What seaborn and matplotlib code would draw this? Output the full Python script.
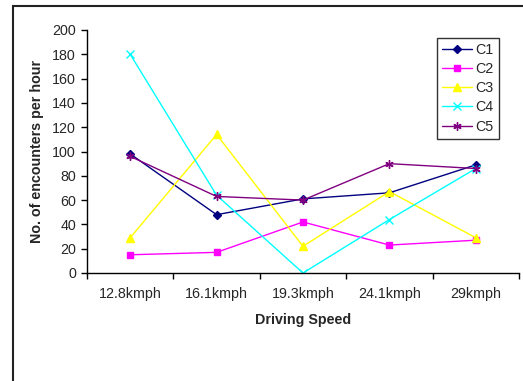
import matplotlib
matplotlib.use("Agg")
import matplotlib.pyplot as plt
import seaborn as sns
import pandas as pd
from matplotlib.patches import Rectangle

speeds = ["12.8kmph", "16.1kmph", "19.3kmph", "24.1kmph", "29kmph"]
c1 = [98, 48, 61, 66, 89]
c2 = [15, 17, 42, 23, 27]
c3 = [29, 114, 22, 67, 29]
c4 = [180, 64, 0, 44, 86]
c5 = [96, 63, 60, 90, 86]
series = {"C1": c1, "C2": c2, "C3": c3, "C4": c4, "C5": c5}

rows = []
for name, vals in series.items():
    for i, (s, v) in enumerate(zip(speeds, vals)):
        rows.append({"speed": s, "pos": i, "value": v, "series": name})
df = pd.DataFrame(rows)

sns.set_style("white")
plt.rcParams["font.family"] = ["Liberation Sans", "DejaVu Sans"]

FS = 10.3
fig = plt.figure(figsize=(5.23, 3.81), dpi=100)
ax = fig.add_axes([87/523, 1-273/381, 432/523, 243/381])

palette = {"C1": "#000080", "C2": "#FF00FF", "C3": "#FFFF00", "C4": "#00FFFF", "C5": "#800080"}
markers = {"C1": "D", "C2": "s", "C3": "^", "C4": "x", "C5": (6, 2, 0)}
sizes = {"C1": 4, "C2": 4.5, "C3": 5.5, "C4": 5.5, "C5": 6}

for name in series:
    sub = df[df.series == name]
    sns.lineplot(data=sub, x="pos", y="value", ax=ax, color=palette[name],
                 marker=markers[name], markersize=sizes[name], linewidth=1,
                 markeredgecolor=palette[name], markeredgewidth=1.0, label=name)

ax.set_xlim(-0.5, 4.5)
ax.set_ylim(0, 200)
ax.set_yticks(range(0, 201, 20))
ax.set_xticks(range(5))
ax.set_xticklabels(speeds)
ax.set_xticks([i - 0.5 for i in range(6)], minor=True)
ax.tick_params(axis="x", which="major", length=0, pad=10, labelsize=FS)
ax.tick_params(axis="x", which="minor", length=4, width=1, color="black", bottom=True)
ax.tick_params(axis="y", length=4, width=1, color="black", left=True, labelsize=FS, pad=4)
for sp in ["top", "right"]:
    ax.spines[sp].set_visible(False)
for sp in ["left", "bottom"]:
    ax.spines[sp].set_color("black")
    ax.spines[sp].set_linewidth(1)

ax.set_xlabel("Driving Speed", fontweight="bold", fontsize=FS, labelpad=8.5)
ax.set_ylabel("No. of encounters per hour", fontweight="bold", fontsize=FS, labelpad=6)

leg = ax.legend(loc="upper left", bbox_to_anchor=(350/432, 235/243), frameon=True,
                fancybox=False, edgecolor="black", fontsize=FS, handlelength=2.1,
                borderpad=0.35, labelspacing=0.36, handletextpad=0.25, borderaxespad=0)
leg.get_frame().set_linewidth(1)

fig.patches.append(Rectangle((13/523, -0.1), 1.2, 1 - 6/381 + 0.1, transform=fig.transFigure,
                             fill=False, edgecolor="#222222", linewidth=1.5))

fig.savefig("out.png", dpi=100)
